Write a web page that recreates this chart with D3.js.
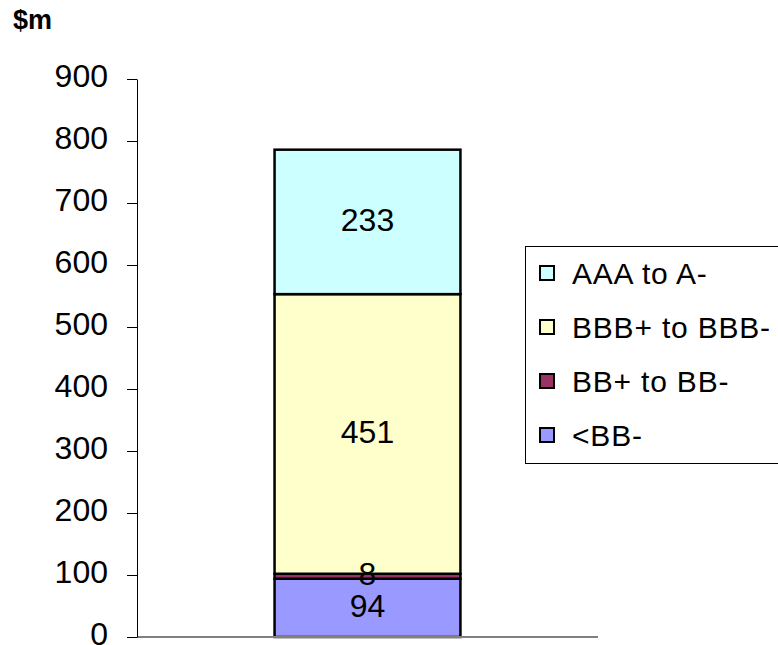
<!DOCTYPE html>
<html>
<head>
<meta charset="utf-8">
<script src="https://cdn.jsdelivr.net/npm/d3@7"></script>
<style>
  html, body { margin: 0; padding: 0; background: #fff; }
  svg { display: block; font-family: "Liberation Sans", Arial, sans-serif; }
</style>
</head>
<body>
<svg id="chart" width="778" height="645"></svg>
<script>
// Rating bands, stacked bottom to top
const categories = ["<BB-", "BB+ to BB-", "BBB+ to BBB-", "AAA to A-"];
const values = [94, 8, 451, 233];
const colors = ["#9999FF", "#993366", "#FFFFCC", "#CCFFFF"];
const tickValues = [0, 100, 200, 300, 400, 500, 600, 700, 800, 900];
const unitLabel = "$m";

const FONT = "'Liberation Sans', Arial, sans-serif";
const svg = d3.select("#chart");

const plotLeft = 137, plotRight = 598;
const y = d3.scaleLinear().domain([0, 900]).range([637, 79]);
const x = d3.scaleBand().domain(["total"]).range([plotLeft, plotRight])
  .paddingInner(0).paddingOuter(0.74);

// Stack the bands
let acc = 0;
const stacked = values.map((v, i) => {
  const d = { name: categories[i], value: v, y0: acc, y1: acc + v, color: colors[i] };
  acc += v;
  return d;
});

// Unit label
svg.append("text")
  .attr("x", 13).attr("y", 29)
  .attr("font-size", 27).attr("font-weight", "bold")
  .text(unitLabel);

// Bar segments
const bx = x("total"), bw = x.bandwidth();
svg.selectAll("rect.seg")
  .data(stacked)
  .enter().append("rect")
  .attr("class", "seg")
  .attr("x", bx)
  .attr("width", bw)
  .attr("y", d => y(d.y1))
  .attr("height", d => y(d.y0) - y(d.y1))
  .attr("fill", d => d.color)
  .attr("stroke", "#000")
  .attr("stroke-width", 2.5);

// Baseline
svg.append("line")
  .attr("x1", plotLeft).attr("x2", plotRight)
  .attr("y1", y(0)).attr("y2", y(0))
  .attr("stroke", "#808080").attr("stroke-width", 2);

// Y axis
const yAxis = d3.axisLeft(y).tickValues(tickValues).tickSize(10).tickPadding(19).tickSizeOuter(0);
const gy = svg.append("g").attr("transform", `translate(${plotLeft},0)`).call(yAxis);
gy.select(".domain").attr("stroke", "#000").attr("stroke-width", 1);
gy.selectAll(".tick line").attr("stroke", "#000");
gy.selectAll(".tick text")
  .attr("font-size", 32)
  .attr("font-family", FONT)
  .attr("dy", "0.24em")
  .attr("fill", "#000");

// Value labels
svg.selectAll("text.val")
  .data(stacked)
  .enter().append("text")
  .attr("class", "val")
  .attr("x", bx + bw / 2)
  .attr("y", d => y((d.y0 + d.y1) / 2))
  .attr("dy", "0.27em")
  .attr("text-anchor", "middle")
  .attr("font-size", 32)
  .text(d => d.value);

// Legend
const lg = svg.append("g");
lg.append("rect")
  .attr("x", 525.5).attr("y", 246.5)
  .attr("width", 270).attr("height", 217)
  .attr("fill", "#fff").attr("stroke", "#000").attr("stroke-width", 1);

const legendItems = stacked.slice().reverse();
const li = lg.selectAll("g.item")
  .data(legendItems)
  .enter().append("g")
  .attr("class", "item")
  .attr("transform", (d, i) => `translate(540, ${273 + i * 54})`);
li.append("rect")
  .attr("x", 0).attr("y", -7)
  .attr("width", 14).attr("height", 14)
  .attr("fill", d => d.color)
  .attr("stroke", "#000").attr("stroke-width", 2);
li.append("text")
  .attr("x", 32).attr("y", 0).attr("dy", "0.36em")
  .attr("font-size", 30)
  .attr("letter-spacing", 0.8)
  .text(d => d.name);
</script>
</body>
</html>
